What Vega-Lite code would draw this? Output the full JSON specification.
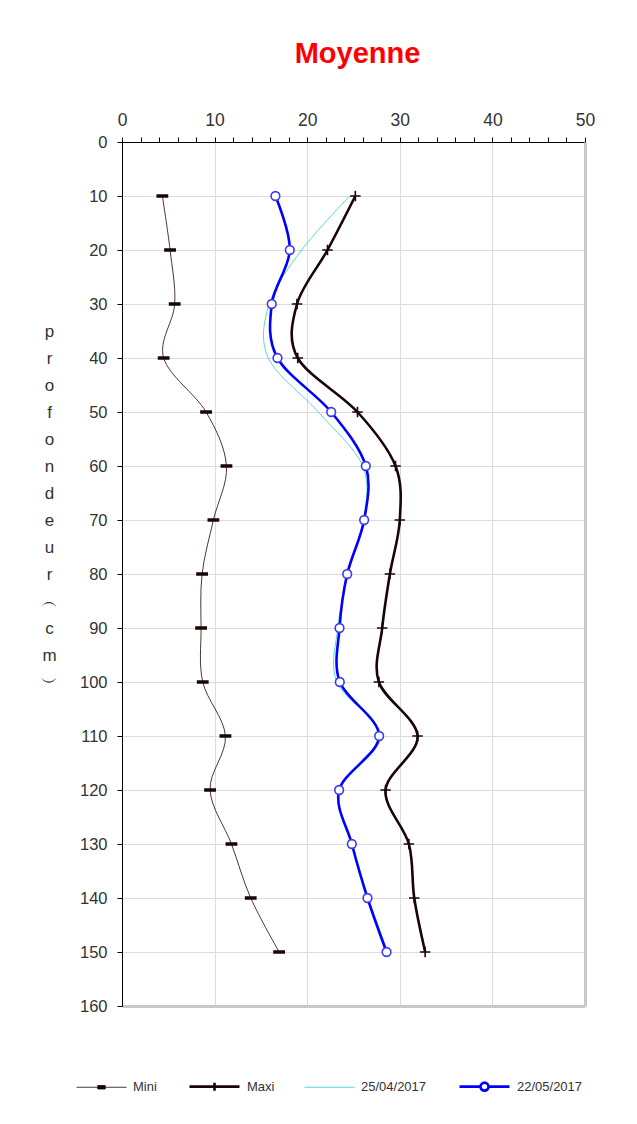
{
  "$schema": "https://vega.github.io/schema/vega-lite/v6.json",
  "autosize": {"type": "none"},
  "padding": {"left": 122, "top": 142, "right": 52, "bottom": 118},
  "width": 463,
  "height": 864,
  "background": "white",
  "config": {
    "font": "Liberation Sans",
    "view": {"stroke": null}
  },
  "title": {
    "text": "Moyenne",
    "color": "#ff0000",
    "fontSize": 29,
    "fontWeight": "bold",
    "font": "Liberation Sans",
    "offset": 42,
    "dx": 4
  },
  "data": {
    "values": [
      {"serie": "Mini", "depth": 10, "value": 4.36},
      {"serie": "Mini", "depth": 20, "value": 5.19},
      {"serie": "Mini", "depth": 30, "value": 5.69},
      {"serie": "Mini", "depth": 40, "value": 4.5},
      {"serie": "Mini", "depth": 50, "value": 9.08},
      {"serie": "Mini", "depth": 60, "value": 11.28},
      {"serie": "Mini", "depth": 70, "value": 9.87},
      {"serie": "Mini", "depth": 80, "value": 8.65},
      {"serie": "Mini", "depth": 90, "value": 8.54},
      {"serie": "Mini", "depth": 100, "value": 8.72},
      {"serie": "Mini", "depth": 110, "value": 11.17},
      {"serie": "Mini", "depth": 120, "value": 9.51},
      {"serie": "Mini", "depth": 130, "value": 11.82},
      {"serie": "Mini", "depth": 140, "value": 13.9},
      {"serie": "Mini", "depth": 150, "value": 16.97},
      {"serie": "Maxi", "depth": 10, "value": 25.2},
      {"serie": "Maxi", "depth": 20, "value": 22.19},
      {"serie": "Maxi", "depth": 30, "value": 18.9},
      {"serie": "Maxi", "depth": 40, "value": 18.98},
      {"serie": "Maxi", "depth": 50, "value": 25.43},
      {"serie": "Maxi", "depth": 60, "value": 29.54},
      {"serie": "Maxi", "depth": 70, "value": 30.0},
      {"serie": "Maxi", "depth": 80, "value": 28.93},
      {"serie": "Maxi", "depth": 90, "value": 28.1},
      {"serie": "Maxi", "depth": 100, "value": 27.74},
      {"serie": "Maxi", "depth": 110, "value": 31.92},
      {"serie": "Maxi", "depth": 120, "value": 28.46},
      {"serie": "Maxi", "depth": 130, "value": 30.98},
      {"serie": "Maxi", "depth": 140, "value": 31.56},
      {"serie": "Maxi", "depth": 150, "value": 32.74},
      {"serie": "25/04/2017", "depth": 10, "value": 24.6},
      {"serie": "25/04/2017", "depth": 20, "value": 19.4},
      {"serie": "25/04/2017", "depth": 30, "value": 15.9},
      {"serie": "25/04/2017", "depth": 40, "value": 15.8},
      {"serie": "25/04/2017", "depth": 50, "value": 21.2},
      {"serie": "25/04/2017", "depth": 60, "value": 26.0},
      {"serie": "25/04/2017", "depth": 70, "value": 26.1},
      {"serie": "25/04/2017", "depth": 80, "value": 24.4},
      {"serie": "25/04/2017", "depth": 90, "value": 23.3},
      {"serie": "25/04/2017", "depth": 100, "value": 23.2},
      {"serie": "25/04/2017", "depth": 110, "value": 27.9},
      {"serie": "25/04/2017", "depth": 120, "value": 23.5},
      {"serie": "25/04/2017", "depth": 130, "value": 24.9},
      {"serie": "25/04/2017", "depth": 140, "value": 26.6},
      {"serie": "25/04/2017", "depth": 150, "value": 28.7},
      {"serie": "22/05/2017", "depth": 10, "value": 16.57},
      {"serie": "22/05/2017", "depth": 20, "value": 18.12},
      {"serie": "22/05/2017", "depth": 30, "value": 16.17},
      {"serie": "22/05/2017", "depth": 40, "value": 16.79},
      {"serie": "22/05/2017", "depth": 50, "value": 22.59},
      {"serie": "22/05/2017", "depth": 60, "value": 26.33},
      {"serie": "22/05/2017", "depth": 70, "value": 26.15},
      {"serie": "22/05/2017", "depth": 80, "value": 24.32},
      {"serie": "22/05/2017", "depth": 90, "value": 23.49},
      {"serie": "22/05/2017", "depth": 100, "value": 23.52},
      {"serie": "22/05/2017", "depth": 110, "value": 27.77},
      {"serie": "22/05/2017", "depth": 120, "value": 23.45},
      {"serie": "22/05/2017", "depth": 130, "value": 24.82},
      {"serie": "22/05/2017", "depth": 140, "value": 26.51},
      {"serie": "22/05/2017", "depth": 150, "value": 28.57}
    ]
  },
  "layer": [
    {
      "mark": {"type": "line", "interpolate": "cardinal", "clip": true},
      "encoding": {
        "x": {
          "field": "value", "type": "quantitative",
          "scale": {"domain": [0, 50], "nice": false, "zero": false},
          "axis": {
            "orient": "top",
            "title": null,
            "values": [0, 2, 4, 6, 8, 10, 12, 14, 16, 18, 20, 22, 24, 26, 28, 30, 32, 34, 36, 38, 40, 42, 44, 46, 48, 50],
            "labelExpr": "datum.value % 10 === 0 ? datum.label : ''",
            "labelOverlap": false,
            "labelFlush": false,
            "labelFont": "Liberation Sans",
            "labelFontSize": 17.5,
            "labelColor": "#333333",
            "labelPadding": 8,
            "tickSize": 5,
            "tickColor": "#000000",
            "domainColor": "#000000",
            "grid": true,
            "gridColor": "#dcdcdc",
            "gridOpacity": {"condition": {"test": "datum.value % 10 === 0 && datum.value > 0 && datum.value < 50", "value": 1}, "value": 0}
          }
        },
        "y": {
          "field": "depth", "type": "quantitative",
          "scale": {"domain": [0, 160], "reverse": true, "nice": false, "zero": false},
          "axis": {
            "orient": "left",
            "values": [0, 10, 20, 30, 40, 50, 60, 70, 80, 90, 100, 110, 120, 130, 140, 150, 160],
            "labelFont": "Liberation Sans",
            "labelFontSize": 16.5,
            "labelColor": "#333333",
            "labelPadding": 10,
            "tickSize": 5,
            "tickColor": "#000000",
            "domainColor": "#000000",
            "grid": true,
            "gridColor": "#dcdcdc",
            "gridOpacity": {"condition": {"test": "datum.value > 0 && datum.value < 160", "value": 1}, "value": 0},
            "title": ["p", "r", "o", "f", "o", "n", "d", "e", "u", "r", "︵", "c", "m", "︶"],
            "titleAngle": 0,
            "titleFont": "Liberation Sans",
            "titleFontSize": 17,
            "titleFontWeight": "normal",
            "titleColor": "#333333",
            "titleLineHeight": 27,
            "titleAlign": "center",
            "titleBaseline": "middle",
            "titleX": -73,
            "titleY": 189
          }
        },
        "order": {"field": "depth", "type": "quantitative"},
        "color": {
          "field": "serie", "type": "nominal",
          "scale": {
            "domain": ["Mini", "Maxi", "25/04/2017", "22/05/2017"],
            "range": ["#1a0505", "#1a0505", "#33cccc", "#0000ff"]
          },
          "legend": {
            "orient": "none",
            "legendX": -46,
            "legendY": 918,
            "direction": "horizontal",
            "title": null,
            "symbolSize": 2500,
            "symbolStrokeWidth": 1,
            "labelFont": "Liberation Sans",
            "labelFontSize": 13,
            "labelColor": "#333333",
            "labelOffset": 6,
            "columnPadding": 27,
            "padding": 0,
            "encode": {
              "symbols": {
                "update": {
                  "shape": {"signal": "datum.value === 'Mini' ? 'M-1,0H1M-0.15,-0.07H0.15V0.07H-0.15Z' : datum.value === 'Maxi' ? 'M-1,0H1M0,-0.16V0.16' : datum.value === '25/04/2017' ? 'M-1,0H1' : 'M-1,0H-0.16M0.16,0H1M-0.16,0A0.16,0.16 0 1,0 0.16,0A0.16,0.16 0 1,0 -0.16,0'"},
                  "strokeWidth": {"signal": "datum.value === 'Mini' ? 1 : datum.value === 'Maxi' ? 2.5 : datum.value === '25/04/2017' ? 1 : 2.5"},
                  "stroke": {"signal": "datum.value === 'Mini' ? '#1a0505' : datum.value === 'Maxi' ? '#1a0505' : datum.value === '25/04/2017' ? '#33cccc' : '#0000ff'"},
                  "fill": {"signal": "datum.value === 'Mini' ? '#1a0505' : datum.value === '22/05/2017' ? '#ffffff' : 'transparent'"},
                  "opacity": {"value": 1}
                }
              }
            }
          }
        },
        "strokeWidth": {
          "field": "serie", "type": "nominal",
          "scale": {
            "type": "ordinal",
            "domain": ["Mini", "Maxi", "25/04/2017", "22/05/2017"],
            "range": [0.8, 2.6, 0.8, 2.6]
          },
          "legend": null
        }
      }
    },
    {
      "transform": [{"filter": "datum.serie !== '25/04/2017'"}],
      "mark": {"type": "point", "strokeWidth": 1.6, "opacity": 1},
      "encoding": {
        "x": {
          "field": "value", "type": "quantitative",
          "axis": {
            "orient": "bottom", "title": null, "labels": false, "ticks": false, "grid": false,
            "domainColor": "#c8c8c8", "domainWidth": 3
          }
        },
        "y": {
          "field": "depth", "type": "quantitative",
          "axis": {
            "orient": "right", "title": null, "labels": false, "ticks": false, "grid": false,
            "domainColor": "#c8c8c8", "domainWidth": 3
          }
        },
        "shape": {
          "field": "serie", "type": "nominal",
          "scale": {
            "domain": ["Mini", "Maxi", "22/05/2017"],
            "range": ["M-0.85,-0.14H0.85V0.14H-0.85Z", "M-1,0H1M0,-1V1", "circle"]
          },
          "legend": null
        },
        "size": {
          "field": "serie", "type": "nominal",
          "scale": {"type": "ordinal", "domain": ["Mini", "Maxi", "22/05/2017"], "range": [144, 110, 75]},
          "legend": null
        },
        "fill": {
          "field": "serie", "type": "nominal",
          "scale": {"domain": ["Mini", "Maxi", "22/05/2017"], "range": ["#1a0505", "transparent", "#ffffff"]},
          "legend": null
        },
        "stroke": {
          "field": "serie", "type": "nominal",
          "scale": {"domain": ["Mini", "Maxi", "22/05/2017"], "range": ["#1a0505", "#1a0505", "#3a3aee"]},
          "legend": null
        }
      }
    }
  ],
  "resolve": {"axis": {"x": "independent", "y": "independent"}}
}
